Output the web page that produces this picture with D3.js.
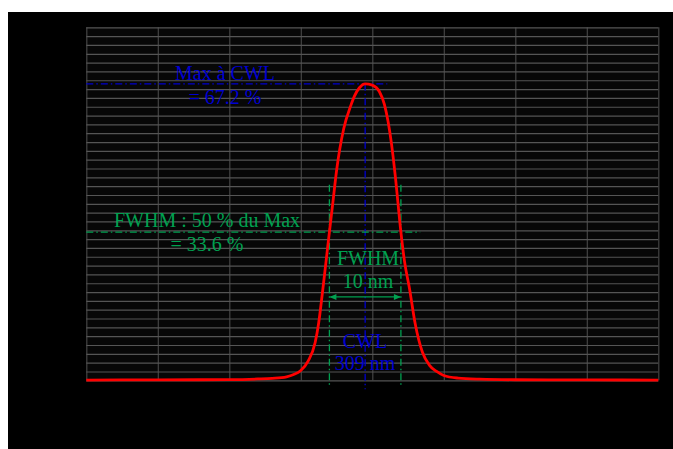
<!DOCTYPE html>
<html><head><meta charset="utf-8">
<script src="https://cdn.jsdelivr.net/npm/d3@7"></script>
<style>html,body{margin:0;padding:0;background:#fff;}svg{display:block;}</style>
</head><body>
<svg id="chart" width="673" height="449"></svg>
<script>
// Data
const wavelengths = [270, 280, 290, 294, 296, 298, 299, 300, 301, 302, 302.5, 303, 303.5, 304, 304.5, 305, 306, 307, 307.5, 308.2, 309, 310, 311, 311.7, 312.2, 312.7, 313.2, 314, 314.5, 315.2, 316, 317, 318, 319, 320, 322, 325, 330, 340, 350];
const transmission = [0.05, 0.1, 0.15, 0.3, 0.45, 0.8, 1.3, 2.2, 4.3, 8.5, 13.0, 19.5, 26.5, 33.6, 40.5, 47.5, 57.0, 62.3, 64.4, 66.3, 67.2, 66.9, 65.4, 62.5, 58.7, 53.4, 46.5, 33.6, 27.0, 20.8, 12.8, 6.4, 3.4, 2.0, 1.1, 0.5, 0.25, 0.12, 0.08, 0.05];
const xTicks = [270, 280, 290, 300, 310, 320, 330, 340, 350];
const yTicks = d3.range(0, 81, 2);
const cwl = 309, maxVal = 67.2, fwhmLeft = 304, fwhmRight = 314, halfVal = 33.6, fwhmWidth = 10;
const labels = {
  max1: "Max à CWL", max2: "= 67.2 %",
  half1: "FWHM : 50 % du Max", half2: "= 33.6 %",
  fw1: "FWHM", fw2: "10 nm",
  cw1: "CWL", cw2: "309 nm"
};

const svg = d3.select("#chart");
const blue = "#0000d0", green = "#00a050";
svg.append("rect").attr("x", 8).attr("y", 12).attr("width", 665).attr("height", 437).attr("fill", "#000");

const pLeft = 86.3, pRight = 658.3, pTop = 27.3, pBottom = 380.3;
const x = d3.scaleLinear().domain([270, 350]).range([pLeft, pRight]);
const y = d3.scaleLinear().domain([0, 80]).range([pBottom, pTop]);

svg.append("rect").attr("x", pLeft).attr("y", pTop).attr("width", pRight - pLeft).attr("height", pBottom - pTop).attr("fill", "#070707");

// grid
const gx = svg.append("g").attr("transform", `translate(0,${pBottom})`)
  .call(d3.axisBottom(x).tickValues(xTicks).tickSize(-(pBottom - pTop)).tickFormat(""));
gx.select(".domain").remove();
gx.selectAll("line").attr("stroke", "#444").attr("stroke-width", 1.2);
const gy = svg.append("g").attr("transform", `translate(${pLeft},0)`)
  .call(d3.axisLeft(y).tickValues(yTicks).tickSize(-(pRight - pLeft)).tickFormat(""));
gy.select(".domain").remove();
gy.selectAll("line").attr("stroke", "#555").attr("stroke-width", 1.2);

const dashDot = "7,3,1.5,3";
// Max line
svg.append("line").attr("x1", x(270)).attr("x2", x(312.1)).attr("y1", y(maxVal)).attr("y2", y(maxVal))
  .attr("stroke", blue).attr("stroke-width", 1.3).attr("stroke-dasharray", dashDot);
svg.append("line").attr("x1", x(cwl)).attr("x2", x(cwl)).attr("y1", y(maxVal)).attr("y2", y(-2))
  .attr("stroke", blue).attr("stroke-width", 1.3).attr("stroke-dasharray", dashDot);
// Half line
svg.append("line").attr("x1", x(270)).attr("x2", x(316.7)).attr("y1", y(halfVal)).attr("y2", y(halfVal))
  .attr("stroke", green).attr("stroke-width", 1.3).attr("stroke-dasharray", dashDot);
[fwhmLeft, fwhmRight].forEach(v => {
  svg.append("line").attr("x1", x(v)).attr("x2", x(v)).attr("y1", y(44.3)).attr("y2", y(-1))
    .attr("stroke", green).attr("stroke-width", 1.3).attr("stroke-dasharray", dashDot);
});
// double arrow
const ay = y(18.9);
svg.append("line").attr("x1", x(fwhmLeft) + 1).attr("x2", x(fwhmLeft + fwhmWidth) - 1).attr("y1", ay).attr("y2", ay)
  .attr("stroke", green).attr("stroke-width", 1.3);
svg.append("path").attr("d", `M${x(fwhmLeft)},${ay} l7,-3 l0,6 z M${x(fwhmRight)},${ay} l-7,-3 l0,6 z`).attr("fill", green);

// curve
const line = d3.line().x((d, i) => x(wavelengths[i])).y(d => y(d)).curve(d3.curveMonotoneX);
svg.append("path").datum(transmission).attr("d", line).attr("fill", "none").attr("stroke", "#f00").attr("stroke-width", 2.8).attr("stroke-linejoin", "round");

// texts
function txt(t, cx, by, col) {
  svg.append("text").attr("x", cx).attr("y", by).attr("text-anchor", "middle")
    .attr("font-family", "Liberation Serif, Times New Roman, serif").attr("font-size", 20)
    .attr("fill", col).text(t);
}
txt(labels.max1, 225, 80, blue);
txt(labels.max2, 225, 104, blue);
txt(labels.half1, 207, 227, green);
txt(labels.half2, 207, 251, green);
txt(labels.fw1, 368, 265, green);
txt(labels.fw2, 368, 288, green);
txt(labels.cw1, 365, 348, blue);
txt(labels.cw2, 365, 370, blue);
</script>
</body></html>
